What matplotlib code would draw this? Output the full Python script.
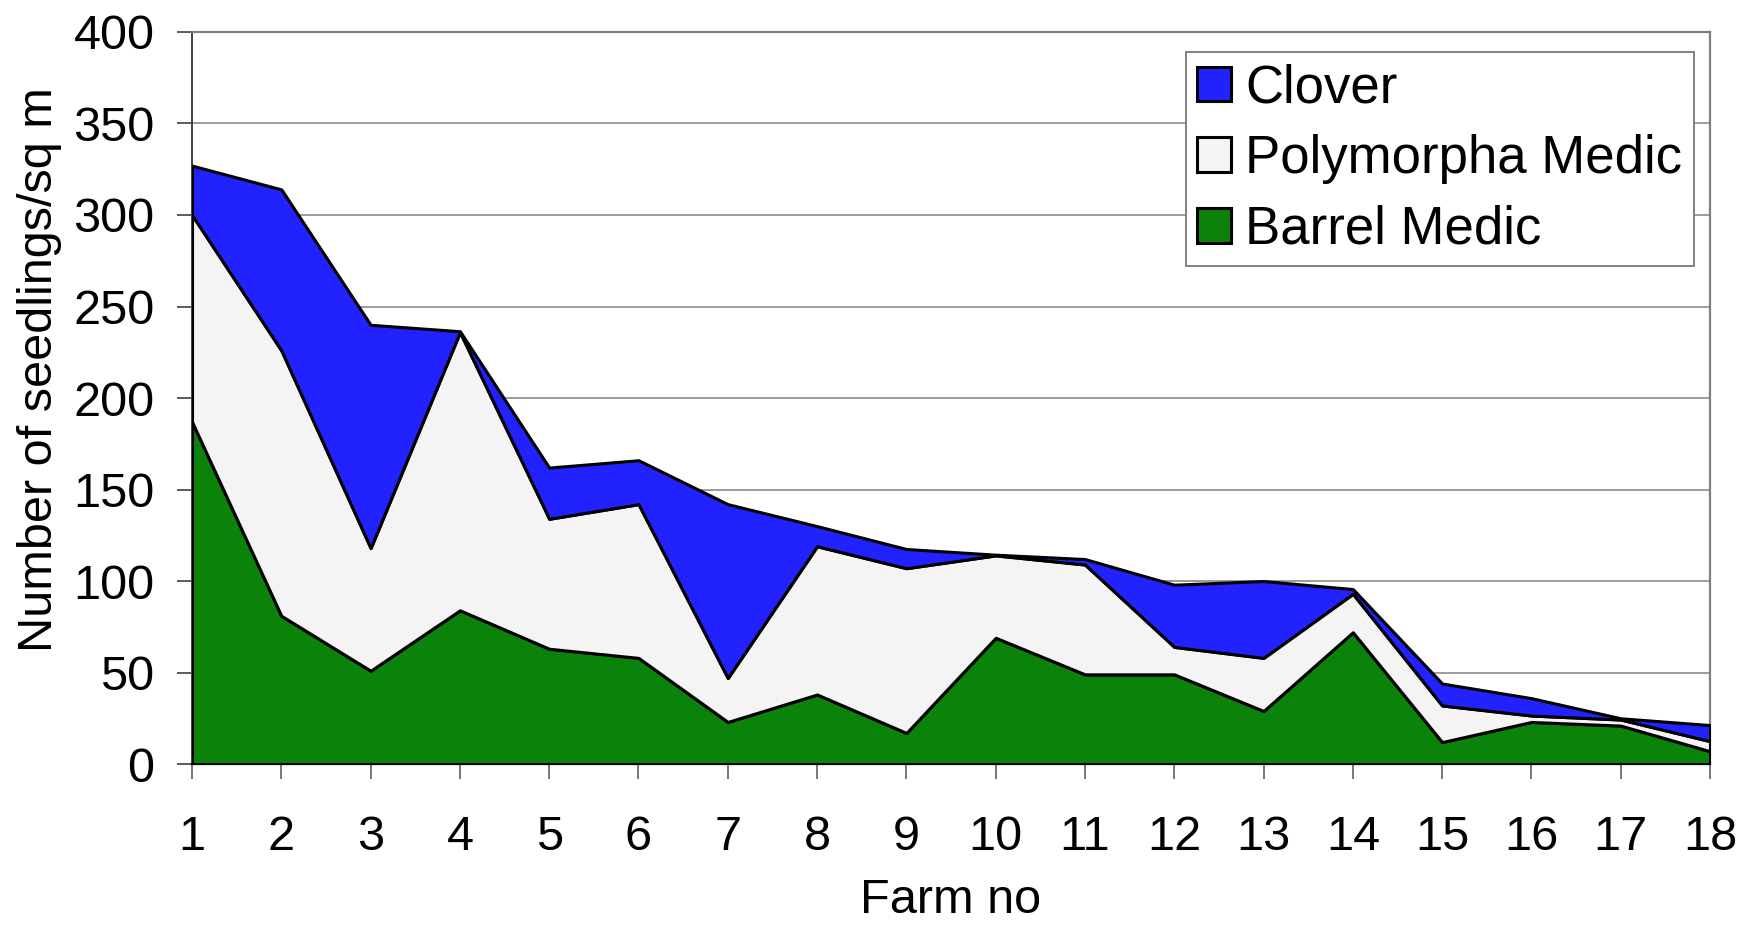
import numpy as np
from matplotlib import pyplot as plt

plt.rcParams['font.family'] = ['Liberation Sans', 'DejaVu Sans']

farms = list(range(1, 19))

# seedlings per sq m, per species (stacked: barrel at the bottom)
barrel = [187, 81, 51, 84, 63, 58, 23, 38, 17, 69, 49, 49, 29, 72, 12, 23, 21, 7]
polymorpha = [113, 145, 67, 152, 71, 84, 24, 81, 90, 45, 60, 15, 29, 21, 20, 3.5, 3.3, 5.5]
clover = [27, 88, 122, 0.5, 28, 24, 95, 11, 10.5, 0.4, 3, 34, 42, 2.6, 12, 9.5, 0.7, 8.8]

labels = ['Barrel Medic', 'Polymorpha Medic', 'Clover']
colors = ['#0b830b', '#f4f4f4', '#2222ff']

FS = 35

fig, ax = plt.subplots(figsize=(17.41, 9.27), dpi=100)
fig.subplots_adjust(left=0.1103, right=0.9822, bottom=0.1758, top=0.9655)

ax.yaxis.grid(True, color='#808080', linewidth=1.1)
ax.set_axisbelow(True)

ax.stackplot(farms, barrel, polymorpha, clover, labels=labels,
             colors=colors, edgecolor='black', linewidth=2.2, zorder=3)

ax.set_xlim(1, 18)
ax.set_ylim(0, 400)
ax.set_xticks(farms)
ax.set_yticks(np.arange(0, 401, 50))

ax.tick_params(axis='y', labelsize=FS, length=11, width=1.2, color='#404040', pad=16)
ax.tick_params(axis='x', labelsize=FS, length=11, width=1.2, color='#606060', pad=26)

for side in ['top', 'right']:
    ax.spines[side].set_color('#808080')
    ax.spines[side].set_linewidth(1.6)
ax.spines['left'].set_color('#404040')
ax.spines['left'].set_linewidth(1.4)
ax.spines['bottom'].set_color('#000000')
ax.spines['bottom'].set_linewidth(1.6)

ax.set_xlabel('Farm no', fontsize=FS, labelpad=13)
ax.set_ylabel('Number of seedlings/sq m', fontsize=FS)
ax.yaxis.set_label_coords(-0.0856, 0.539)

handles, names = ax.get_legend_handles_labels()
leg = ax.legend(handles[::-1], names[::-1], loc='upper right',
                bbox_to_anchor=(0.9895, 0.9727), borderaxespad=0,
                fontsize=38, handlelength=0.64, handleheight=0.64,
                handletextpad=0.27, labelspacing=0.39, borderpad=0.22,
                fancybox=False, framealpha=1, edgecolor='#808080')
leg.get_frame().set_linewidth(1.4)
leg.set_zorder(5)

fig.savefig('out.png', dpi=100)
